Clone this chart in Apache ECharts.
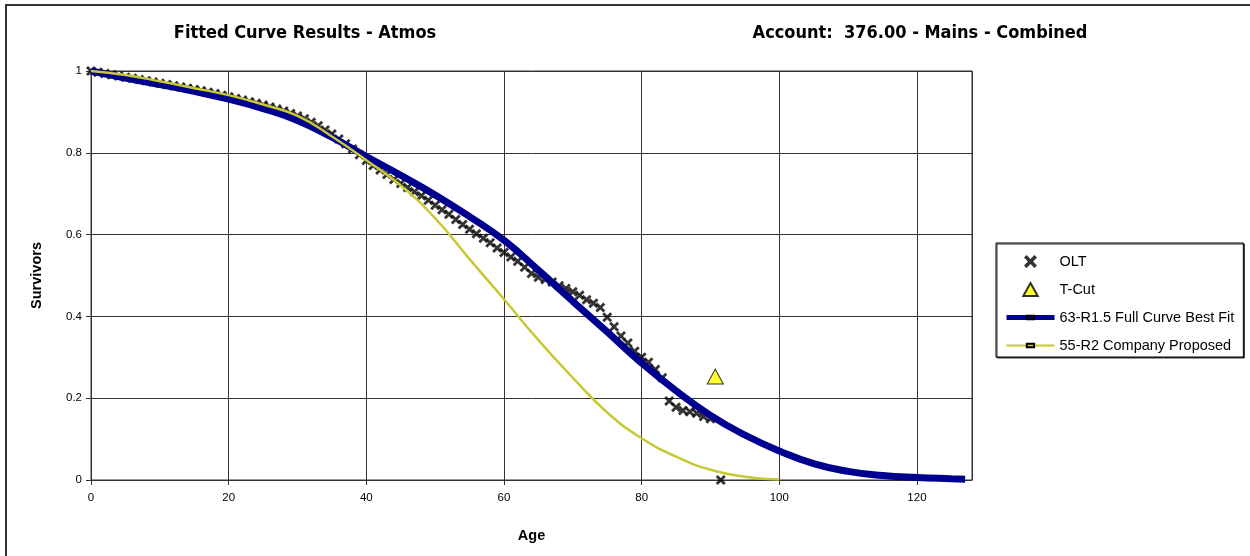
<!DOCTYPE html>
<html>
<head>
<meta charset="utf-8">
<script src="https://cdn.jsdelivr.net/npm/echarts@6/dist/echarts.min.js"></script>
<style>
  html, body { margin: 0; padding: 0; background: #fff; }
  #main { width: 1250px; height: 556px; }
</style>
</head>
<body>
<div id="main"></div>
<script>
var oltAge = [0, 1, 2, 3, 4, 5, 6, 7, 8, 9, 10, 11, 12, 13, 14, 15, 16, 17, 18, 19,
    20, 21, 22, 23, 24, 25, 26, 27, 28, 29, 30, 31, 32, 33, 34, 35, 36, 37, 38, 39,
    40, 41, 42, 43, 44, 45, 46, 47, 48, 49, 50, 51, 52, 53, 54, 55, 56, 57, 58, 59,
    60, 61, 62, 63, 64, 65, 66, 67, 68, 69, 70, 71, 72, 73, 74, 75, 76, 77, 78, 79,
    80, 81, 82, 83, 84, 85, 86, 87, 88, 89, 90, 91.5];
var oltSurv = [1.000, 0.997, 0.994, 0.991, 0.988, 0.985, 0.982, 0.979, 0.976, 0.973,
    0.970, 0.967, 0.964, 0.961, 0.958, 0.955, 0.952, 0.948, 0.945, 0.941,
    0.937, 0.933, 0.929, 0.925, 0.921, 0.917, 0.912, 0.907, 0.902, 0.896,
    0.890, 0.883, 0.875, 0.866, 0.856, 0.846, 0.834, 0.822, 0.809, 0.795,
    0.781, 0.769, 0.758, 0.747, 0.735, 0.725, 0.715, 0.705, 0.695, 0.684,
    0.672, 0.661, 0.650, 0.637, 0.625, 0.613, 0.602, 0.591, 0.580, 0.567,
    0.556, 0.545, 0.535, 0.520, 0.505, 0.496, 0.490, 0.484, 0.475, 0.468,
    0.460, 0.452, 0.441, 0.432, 0.422, 0.398, 0.375, 0.352, 0.335, 0.315,
    0.300, 0.288, 0.270, 0.250, 0.193, 0.178, 0.170, 0.167, 0.163, 0.155,
    0.150, 0.000];

// truncation point
var tcutPoint = [90.7, 0.253];

// 63-R1.5 fitted curve
var fitAge = [0, 5, 10, 15, 20, 25, 30, 35, 40, 45, 50, 55, 60, 65, 70, 75, 80, 85,
    90, 95, 100, 105, 110, 115, 120, 125, 127];
var fitSurv = [1.000, 0.983, 0.967, 0.950, 0.931, 0.908, 0.879, 0.838, 0.791, 0.745,
    0.697, 0.644, 0.586, 0.513, 0.437, 0.362, 0.286, 0.218, 0.158, 0.110,
    0.071, 0.040, 0.021, 0.011, 0.006, 0.003, 0.002];

// 55-R2 company proposed curve
var propAge = [0, 5, 10, 15, 20, 25, 30, 35, 40, 45, 50, 55, 60, 65, 70, 75, 80, 85,
    90, 95, 100];
var propSurv = [1.000, 0.990, 0.975, 0.958, 0.941, 0.918, 0.890, 0.840, 0.782, 0.720,
    0.640, 0.540, 0.442, 0.342, 0.250, 0.165, 0.102, 0.057, 0.025, 0.008, 0.001];

function pairs(xs, ys) {
    var res = [];
    for (var i = 0; i < xs.length; i++) {
        res.push([xs[i], ys[i]]);
    }
    return res;
}

var crossPath = 'path://M0,2 L2,0 L5,3 L8,0 L10,2 L7,5 L10,8 L8,10 L5,7 L2,10 L0,8 L3,5 Z';
var triPath = 'path://M5,0 L10,9 L0,9 Z';
// small flat marker, padded so it stays small inside the legend icon box
var markPath = 'path://M0,0 M1.5,3.2 L8.5,3.2 L8.5,6.8 L1.5,6.8 Z M10,10';
var baseFont = 'Liberation Sans, Arial, sans-serif';
var headFont = 'DejaVu Sans Condensed, Liberation Sans, sans-serif';

var myChart = echarts.init(document.getElementById('main'));
var option = {
    animation: false,
    backgroundColor: '#fff',
    graphic: [
        {
            type: 'rect',
            shape: { x: 6, y: 5, width: 1300, height: 600 },
            style: { fill: 'none', stroke: '#333', lineWidth: 2 },
            silent: true
        },
        {
            type: 'text',
            x: 305, y: 33,
            style: {
                text: 'Fitted Curve Results - Atmos',
                font: 'bold 18px ' + headFont,
                fill: '#000',
                textAlign: 'center',
                textVerticalAlign: 'middle'
            }
        },
        {
            type: 'text',
            x: 920, y: 33,
            style: {
                text: 'Account:  376.00 - Mains - Combined',
                font: 'bold 18px ' + headFont,
                fill: '#000',
                textAlign: 'center',
                textVerticalAlign: 'middle'
            }
        }
    ],
    legend: {
        orient: 'vertical',
        left: 996,
        top: 243,
        padding: [11, 9, 4, 8],
        itemWidth: 48,
        itemHeight: 13,
        itemGap: 13,
        backgroundColor: '#fff',
        borderColor: '#000',
        borderWidth: 1,
        shadowColor: '#333',
        shadowOffsetX: 1,
        shadowOffsetY: 1,
        shadowBlur: 0,
        textStyle: { fontFamily: baseFont, fontSize: 14.5, color: '#000' },
        data: [
            { name: 'OLT', icon: crossPath },
            { name: 'T-Cut', icon: triPath },
            { name: '63-R1.5 Full Curve Best Fit', lineStyle: { width: 5 } },
            { name: '55-R2 Company Proposed', lineStyle: { width: 2 } }
        ]
    },
    grid: {
        left: 91,
        right: 278,
        top: 71,
        bottom: 76,
        show: true,
        borderColor: '#333',
        borderWidth: 1
    },
    xAxis: {
        type: 'value',
        min: 0,
        max: 128,
        interval: 20,
        name: 'Age',
        nameLocation: 'middle',
        nameGap: 48,
        nameTextStyle: { fontFamily: baseFont, fontSize: 14.5, fontWeight: 'bold', color: '#000' },
        axisLine: { show: true, onZero: false, lineStyle: { color: '#333' } },
        axisTick: { show: true, length: 5, lineStyle: { color: '#333' } },
        axisLabel: { fontFamily: baseFont, fontSize: 11.5, color: '#000', margin: 12, showMaxLabel: false },
        splitLine: { show: true, lineStyle: { color: '#333', width: 1 } }
    },
    yAxis: {
        type: 'value',
        min: 0,
        max: 1,
        interval: 0.2,
        name: 'Survivors',
        nameLocation: 'middle',
        nameGap: 47,
        nameTextStyle: { fontFamily: baseFont, fontSize: 14.5, fontWeight: 'bold', color: '#000' },
        axisLine: { show: true, lineStyle: { color: '#333' } },
        axisTick: { show: true, length: 5, lineStyle: { color: '#333' } },
        axisLabel: { fontFamily: baseFont, fontSize: 11.5, color: '#000', margin: 9 },
        splitLine: { show: true, lineStyle: { color: '#333', width: 1 } }
    },
    series: [
        {
            name: 'OLT',
            type: 'scatter',
            symbol: crossPath,
            symbolSize: 10,
            itemStyle: { color: '#000' },
            data: pairs(oltAge, oltSurv)
        },
        {
            name: 'T-Cut',
            type: 'scatter',
            symbol: triPath,
            symbolSize: [16, 15],
            itemStyle: { color: '#ffff00', borderColor: '#000', borderWidth: 1 },
            data: [tcutPoint]
        },
        {
            name: '63-R1.5 Full Curve Best Fit',
            type: 'line',
            smooth: true,
            showSymbol: false,
            symbol: markPath,
            lineStyle: { color: '#00008f', width: 7 },
            itemStyle: { color: '#00008f', borderColor: '#000', borderWidth: 1 },
            data: pairs(fitAge, fitSurv)
        },
        {
            name: '55-R2 Company Proposed',
            type: 'line',
            smooth: true,
            showSymbol: false,
            symbol: markPath,
            lineStyle: { color: '#c8c832', width: 2.5 },
            itemStyle: { color: '#c8c832', borderColor: '#000', borderWidth: 1 },
            data: pairs(propAge, propSurv)
        }
    ]
};

myChart.setOption(option, true);
</script>
</body>
</html>
